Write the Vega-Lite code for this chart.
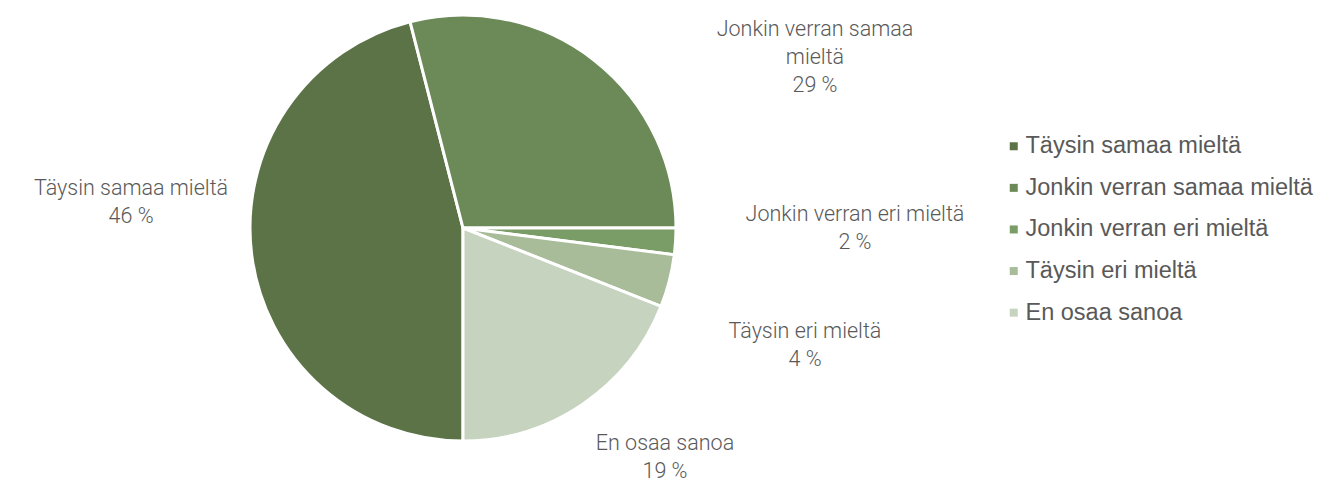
{
  "$schema": "https://vega.github.io/schema/vega-lite/v6.json",
  "width": 926,
  "height": 456,
  "autosize": {"type": "none"},
  "padding": {"left": 0, "top": 0, "right": 416, "bottom": 32},
  "background": "white",
  "config": {"view": {"stroke": null}},
  "data": {
    "values": [
      {"cat": "Täysin samaa mieltä", "n": 1, "v": 46, "label": "Täysin samaa mieltä\n46 %"},
      {"cat": "Jonkin verran samaa mieltä", "n": 2, "v": 29, "label": "Jonkin verran samaa\nmieltä\n29 %"},
      {"cat": "Jonkin verran eri mieltä", "n": 3, "v": 2, "label": "Jonkin verran eri mieltä\n2 %"},
      {"cat": "Täysin eri mieltä", "n": 4, "v": 4, "label": "Täysin eri mieltä\n4 %"},
      {"cat": "En osaa sanoa", "n": 5, "v": 19, "label": "En osaa sanoa\n19 %"}
    ]
  },
  "encoding": {
    "theta": {"field": "v", "type": "quantitative", "stack": true, "scale": {"range": [3.14159265, 9.42477796]}},
    "order": {"field": "n", "type": "quantitative"},
    "color": {
      "field": "cat", "type": "nominal",
      "scale": {
        "domain": ["Täysin samaa mieltä", "Jonkin verran samaa mieltä", "Jonkin verran eri mieltä", "Täysin eri mieltä", "En osaa sanoa"],
        "range": ["#5b7346", "#6b8a58", "#7a9c66", "#a8bc99", "#c6d3bf"]
      },
      "legend": {
        "title": null, "orient": "none", "legendX": 1002, "legendY": 134.5, "padding": 0,
        "symbolType": "square", "symbolSize": 64, "symbolStrokeWidth": 0,
        "labelFont": "Liberation Sans", "labelFontSize": 23.5, "labelColor": "#595959",
        "labelLimit": 400, "labelOffset": 0, "rowPadding": 16.6
      }
    }
  },
  "layer": [
    {"mark": {"type": "arc", "outerRadius": 213, "stroke": "white", "strokeWidth": 3}},
    {"mark": {"type": "text", "radius": 334.2, "thetaOffset": 0.2412, "font": "Roboto", "fontWeight": 300, "fontSize": 21.5, "lineHeight": 28, "lineBreak": "\n", "align": "center", "baseline": "middle"},
     "encoding": {"text": {"condition": {"test": "datum.n === 1", "field": "label"}, "value": ""}, "color": {"value": "#595959"}}},
    {"mark": {"type": "text", "radius": 404.1, "thetaOffset": 0.3976, "font": "Roboto", "fontWeight": 300, "fontSize": 21.5, "lineHeight": 28, "lineBreak": "\n", "align": "center", "baseline": "middle"},
     "encoding": {"text": {"condition": {"test": "datum.n === 2", "field": "label"}, "value": ""}, "color": {"value": "#595959"}}},
    {"mark": {"type": "text", "radius": 392.2, "thetaOffset": -0.0972, "font": "Roboto", "fontWeight": 300, "fontSize": 21.5, "lineHeight": 28, "lineBreak": "\n", "align": "center", "baseline": "middle"},
     "encoding": {"text": {"condition": {"test": "datum.n === 3", "field": "label"}, "value": ""}, "color": {"value": "#595959"}}},
    {"mark": {"type": "text", "radius": 357.6, "thetaOffset": 0.0452, "font": "Roboto", "fontWeight": 300, "fontSize": 21.5, "lineHeight": 28, "lineBreak": "\n", "align": "center", "baseline": "middle"},
     "encoding": {"text": {"condition": {"test": "datum.n === 4", "field": "label"}, "value": ""}, "color": {"value": "#595959"}}},
    {"mark": {"type": "text", "radius": 296.1, "thetaOffset": -0.1539, "font": "Roboto", "fontWeight": 300, "fontSize": 21.5, "lineHeight": 28, "lineBreak": "\n", "align": "center", "baseline": "middle"},
     "encoding": {"text": {"condition": {"test": "datum.n === 5", "field": "label"}, "value": ""}, "color": {"value": "#595959"}}}
  ]
}
